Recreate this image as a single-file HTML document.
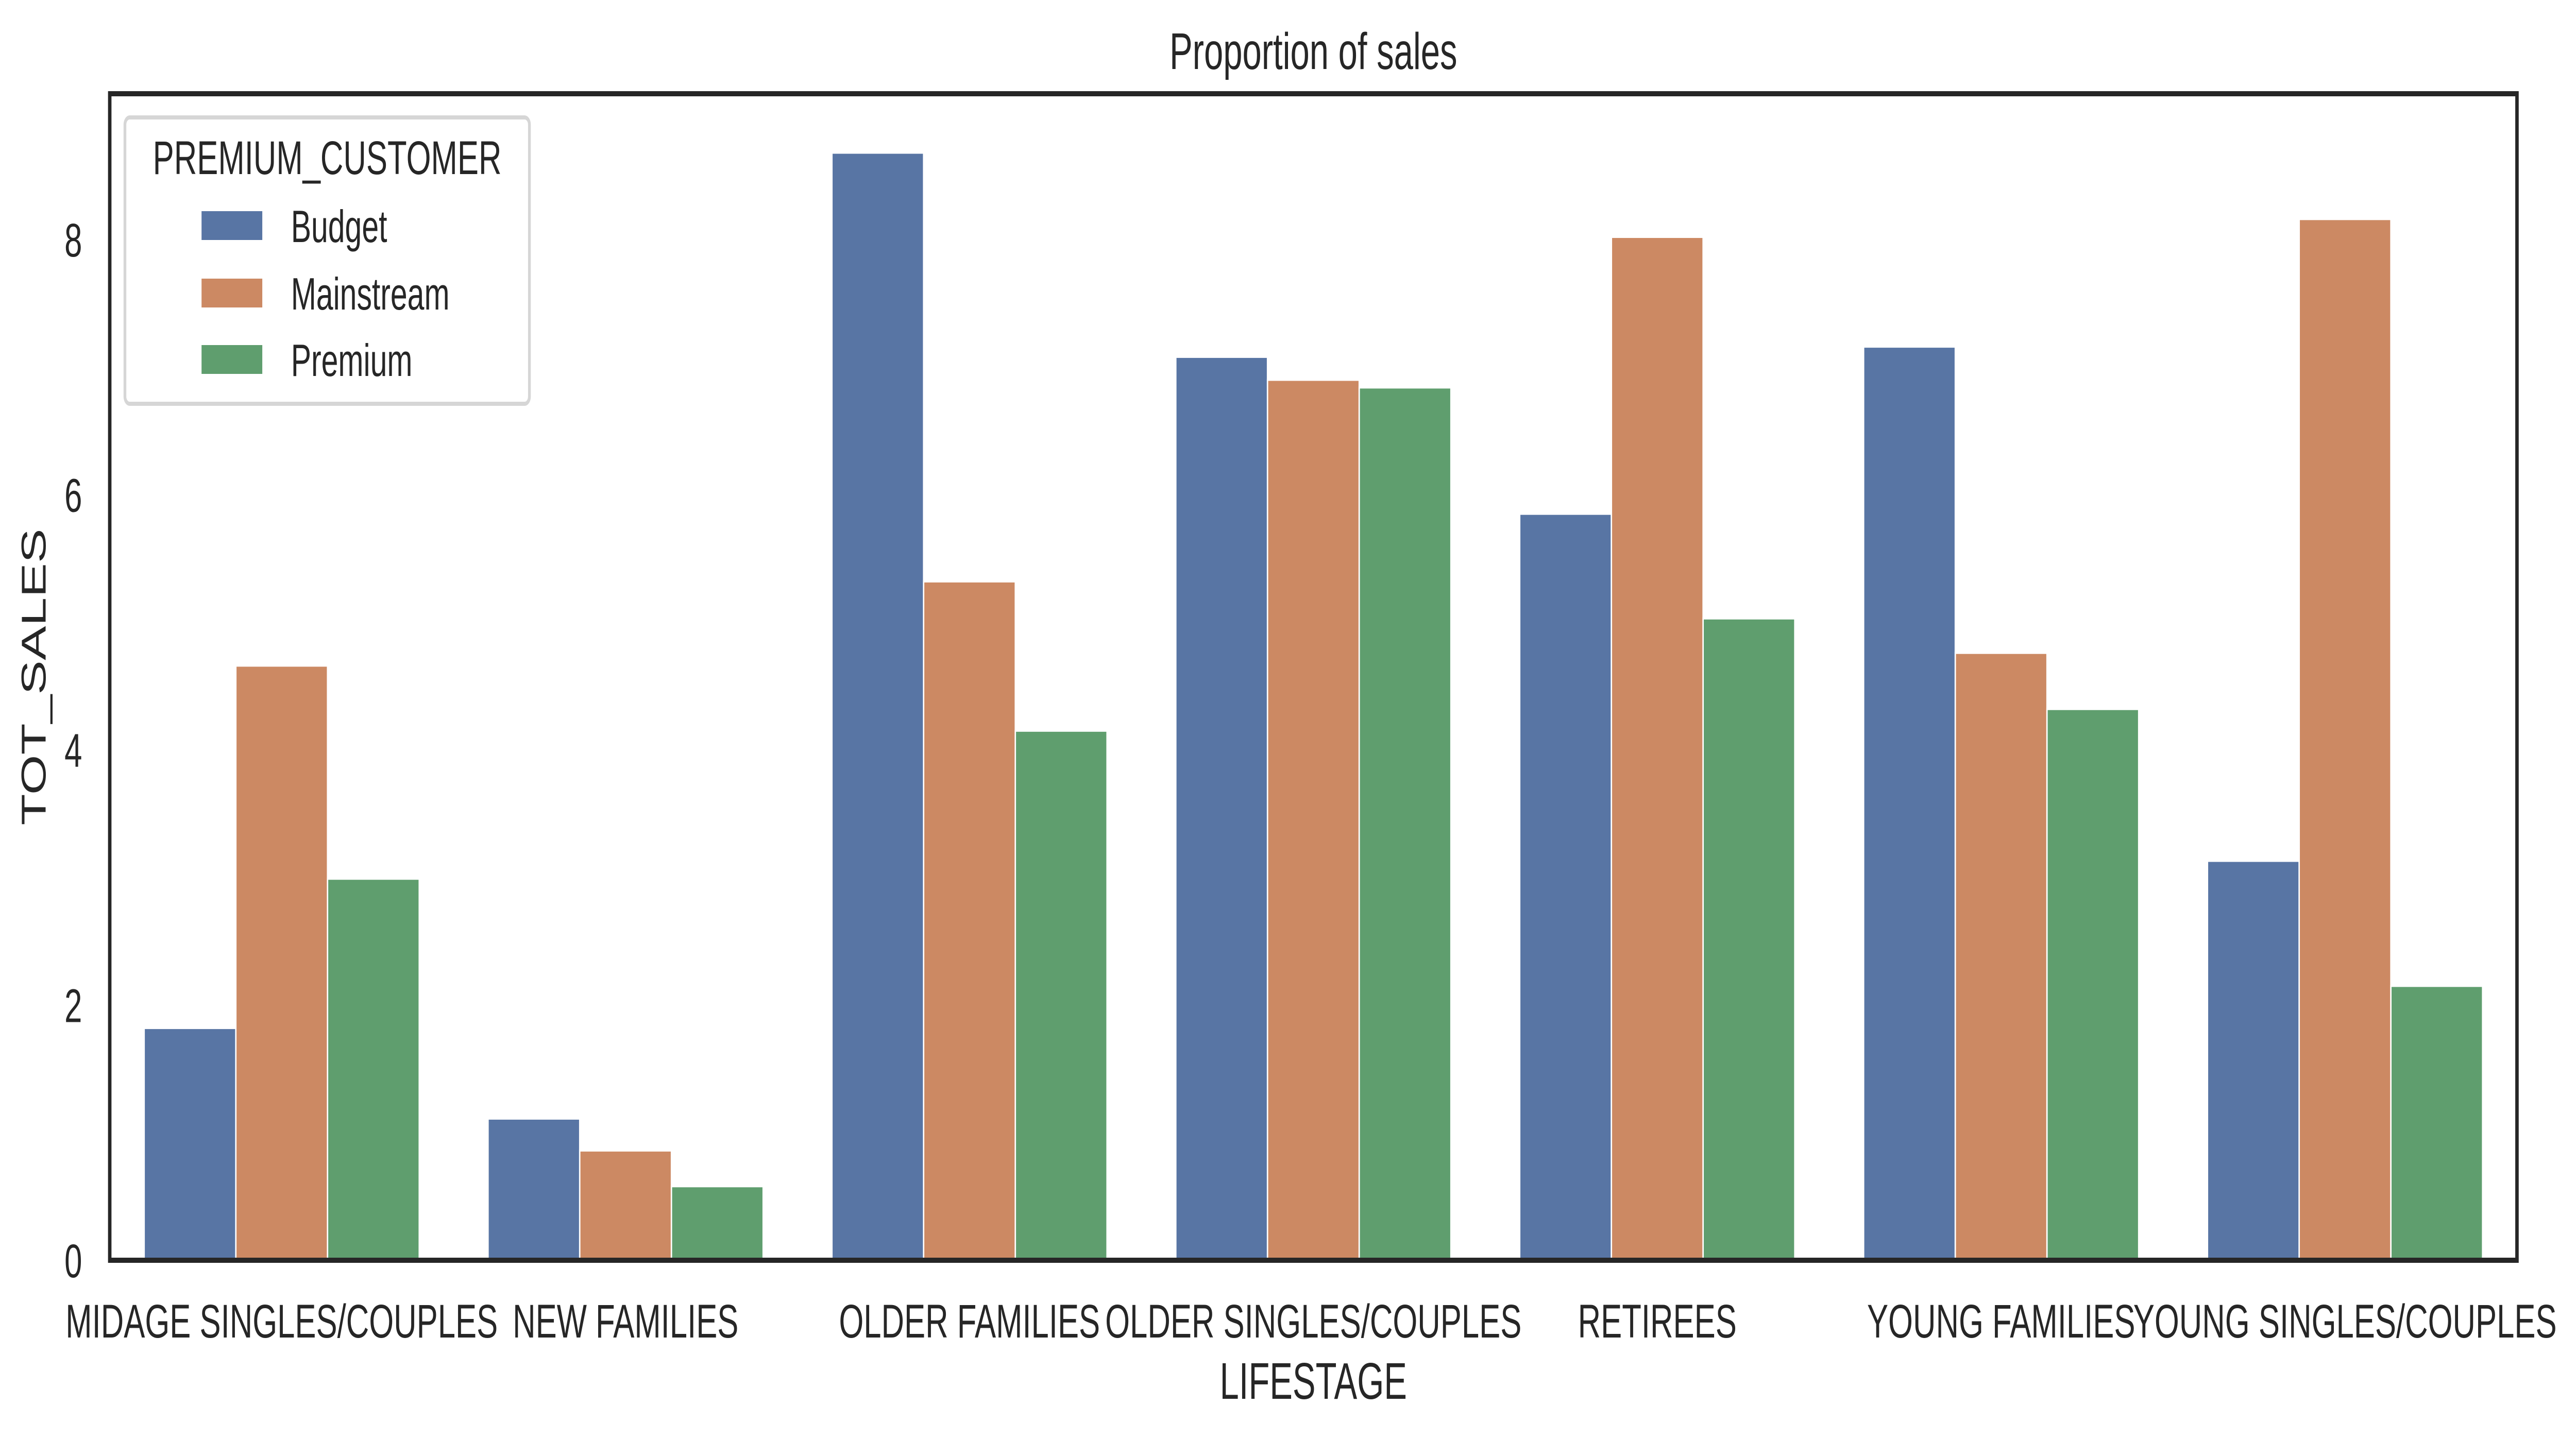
<!DOCTYPE html>
<html><head><meta charset="utf-8"><style>
html,body{margin:0;padding:0;background:#fff;width:100%;height:100%;overflow:hidden;}
svg{display:block;font-family:"Liberation Sans",sans-serif;width:100vw;height:100vh;}
</style></head><body>
<svg id="chart" viewBox="0 0 7464 2796" preserveAspectRatio="none" xmlns="http://www.w3.org/2000/svg">
<g id="bars"></g>
<g id="axes"></g>
</svg>
<script>
const categories = ["MIDAGE SINGLES/COUPLES","NEW FAMILIES","OLDER FAMILIES","OLDER SINGLES/COUPLES","RETIREES","YOUNG FAMILIES","YOUNG SINGLES/COUPLES"];
const seriesNames = ["Budget","Mainstream","Premium"];
const budget = [1.82, 1.11, 8.68, 7.08, 5.85, 7.16, 3.13];
const mainstream = [4.66, 0.86, 5.32, 6.90, 8.02, 4.76, 8.16];
const premium = [2.99, 0.58, 4.15, 6.84, 5.03, 4.32, 2.15];
const yTicks = [0, 2, 4, 6, 8];

const NS = "http://www.w3.org/2000/svg";
const L = 318, R = 7293, T = 182, B = 2447;
const colors = ["#5875a4", "#cc8963", "#5f9e6e"];
const series = [budget, mainstream, premium];
const yMax = (B - T) / 247.75;
function y(v) { return B - (v / yMax) * (B - T); }
const catW = (R - L) / categories.length;
function xCenter(i) { return L + catW * (i + 0.5); }
const barW = catW * 0.8 / 3;

function mk(tag, attrs, parent) {
  const e = document.createElementNS(NS, tag);
  for (const k in attrs) e.setAttribute(k, attrs[k]);
  parent.appendChild(e);
  return e;
}
const bars = document.getElementById("bars");
const axes = document.getElementById("axes");
const svg = document.getElementById("chart");

series.forEach((vals, s) => {
  vals.forEach((v, i) => {
    const x0 = xCenter(i) - catW * 0.4 + s * barW;
    const r = mk("rect", {x: x0, y: y(v), width: barW, height: B - y(v), fill: colors[s], stroke: "#fff", "stroke-width": 4}, bars);
    
    
  });
});

const fr = mk("rect", {x: L, y: T, width: R - L, height: B - T, fill: "none", stroke: "#262626", "stroke-width": 10}, axes);



yTicks.forEach(t => {
  const tx = mk("text", {x: 238, y: y(t) + 33, "font-size": 92, fill: "#262626", "text-anchor": "end"}, axes);
  tx.textContent = t;
  
  
});
categories.forEach((c, i) => {
  const tx = mk("text", {x: xCenter(i), y: 2597, "font-size": 92, fill: "#262626", "text-anchor": "middle"}, axes);
  tx.textContent = c;
  
  
});

const title = mk("text", {x: (L + R) / 2, y: 134, "font-size": 100, fill: "#262626", "text-anchor": "middle"}, svg);
title.textContent = "Proportion of sales";



const xl = mk("text", {x: (L + R) / 2, y: 2716, "font-size": 100, fill: "#262626", "text-anchor": "middle"}, svg);
xl.textContent = "LIFESTAGE";



const yl = mk("text", {x: 0, y: 0, "font-size": 100, fill: "#262626", "text-anchor": "middle", transform: "translate(132," + ((T + B) / 2) + ") rotate(-90)"}, svg);
yl.textContent = "TOT_SALES";



const lg = mk("g", {}, svg);


mk("rect", {x: 362, y: 228, width: 1172, height: 556, rx: 14, fill: "#fff", "fill-opacity": 0.8, stroke: "#d6d6d6", "stroke-width": 8}, lg);
const lt = mk("text", {x: 948, y: 338, "font-size": 92, fill: "#262626", "text-anchor": "middle"}, lg);
lt.textContent = "PREMIUM_CUSTOMER";


const rows = [438, 569, 698];
seriesNames.forEach((n, s) => {
  const p = mk("rect", {x: 584, y: rows[s] - 28, width: 176, height: 56, fill: colors[s]}, lg);
  
  
  const t = mk("text", {x: 843, y: rows[s] + 32, "font-size": 88, fill: "#262626"}, lg);
  t.textContent = n;
  
  
});
</script>
</body></html>
